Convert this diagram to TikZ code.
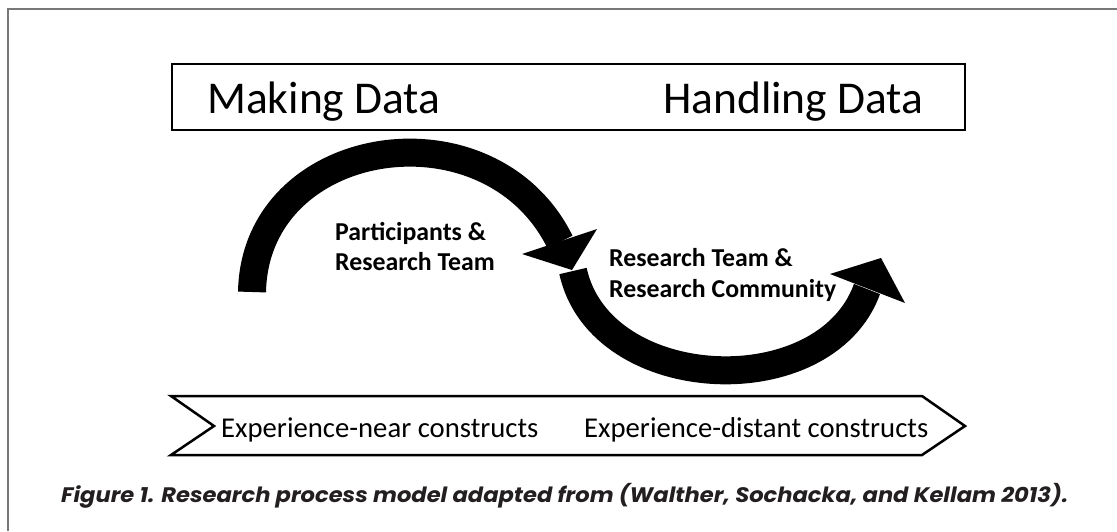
\documentclass[tikz,border=0pt]{standalone}
\usepackage{fontspec}
\usepackage{graphicx}
\setmainfont{Carlito}
\newfontfamily\capfont{Poppins}
\definecolor{captext}{RGB}{35,31,32}
\definecolor{framegray}{RGB}{120,120,120}
\begin{document}
\begin{tikzpicture}[x=1pt,y=-1pt,
  boxline/.style={draw=black, line width=2.5pt},
  bigtext/.style={anchor=base west, inner sep=0pt, font=\fontsize{45.5}{52}\selectfont},
  midtext/.style={anchor=base west, inner sep=0pt, font=\fontsize{28.7}{33}\selectfont},
  lbltext/.style={anchor=base west, inner sep=0pt, font=\bfseries\fontsize{25.8}{30}\selectfont},
  shaft/.style={line width=28pt, line cap=butt, draw=black},
  headfill/.style={fill=black}]
\useasboundingbox (0,0) rectangle (1117,531);
\fill[white] (0,0) rectangle (1117,531);
% outer frame (only top and left visible)
\draw[framegray, line width=2pt] (8,531) -- (8,9) -- (1117,9);
% top box
\node[boxline, minimum width=793pt, minimum height=66pt, inner sep=0pt] (topbox) at (568.5,97) {};
\node[bigtext] (making) at (207,113) {Making Data};
\node[bigtext] (handling) at (663,113) {Handling Data};
% arc 1
\coordinate (a1s) at (252,292);
\coordinate (a1e) at (560,242);
\draw[shaft] (a1s) .. controls (255,135) and (490,100) .. (a1e);
\coordinate (h1l) at (522,254);
\coordinate (h1r) at (597,229);
\coordinate (h1t) at (572,270);
\fill[headfill] (h1l) -- (h1r) -- (h1t) -- cycle;
% arc 2
\coordinate (a2s) at (573,271);
\coordinate (a2e) at (867,289);
\draw[shaft] (a2s) .. controls (600,395) and (825,405) .. (a2e);
\coordinate (h2l) at (830,274);
\coordinate (h2r) at (905,303);
\coordinate (h2t) at (881,258);
\fill[headfill] (h2l) -- (h2r) -- (h2t) -- cycle;
% labels
\node[lbltext] (p1) at (335,240) {Participants \&};
\node[lbltext] (p2) at (335,270) {Research Team};
\node[lbltext] (r1) at (609,266) {Research Team \&};
\node[lbltext] (r2) at (609,297) {Research Community};
% chevron
\coordinate (c1) at (171,396);
\coordinate (c2) at (922,396);
\coordinate (c3) at (965,426);
\coordinate (c4) at (922,455);
\coordinate (c5) at (171,455);
\coordinate (c6) at (214,426);
\draw[boxline, line join=miter] (c1) -- (c2) -- (c3) -- (c4) -- (c5) -- (c6) -- cycle;
\node[midtext] (near) at (221,437) {Experience-near constructs};
\node[midtext] (distant) at (584,437) {Experience-distant constructs};
% caption
\node[anchor=base west, inner sep=0pt, text=captext, font=\capfont\bfseries\itshape\fontsize{21}{25}\selectfont] (caption) at (61,502) {\resizebox{1007pt}{\height}{Figure 1. Research process model adapted from (Walther, Sochacka, and Kellam 2013).}};
\end{tikzpicture}
\end{document}
